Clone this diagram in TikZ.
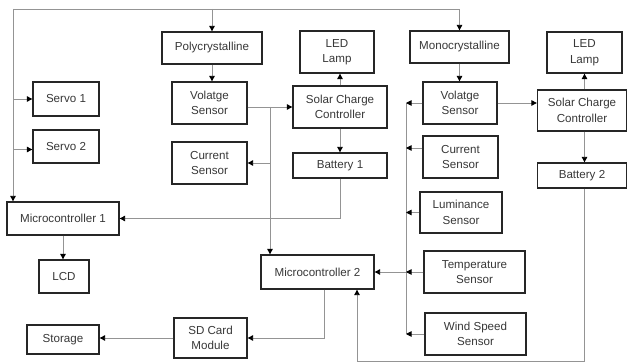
\documentclass[tikz,border=0pt]{standalone}
\usepackage{fontspec}
\setmainfont{Liberation Sans}
\usetikzlibrary{arrows.meta}
\begin{document}
\begin{tikzpicture}[x=1pt,y=-1pt,
  box/.style={draw=black!85,line width=1.3pt,fill=white,align=center,inner sep=1pt,
    font=\fontsize{11.6}{15.5}\selectfont,text=black!78},
  ln/.style={draw=black!42,line width=0.9pt},
  arr/.style={ln,-{Triangle[length=5.5pt,width=5.5pt,color=black]}}]
\useasboundingbox (0,0) rectangle (628,363);
\node[box,minimum width=100pt,minimum height=32pt] (poly) at (212,48) {Polycrystalline};
\node[box,minimum width=75pt,minimum height=42pt] (vs1) at (209.5,103) {Volatge\\Sensor};
\node[box,minimum width=66pt,minimum height=34pt] (servo1) at (66,99) {Servo 1};
\node[box,minimum width=66pt,minimum height=33pt] (servo2) at (66,146.5) {Servo 2};
\node[box,minimum width=75pt,minimum height=42pt] (cs1) at (209.5,163) {Current\\Sensor};
\node[box,minimum width=74pt,minimum height=42pt] (led1) at (337,52) {LED\\Lamp};
\node[box,minimum width=94pt,minimum height=42pt] (scc1) at (340,107) {Solar Charge\\Controller};
\node[box,minimum width=94pt,minimum height=25pt] (bat1) at (340,165.5) {Battery 1};
\node[box,minimum width=112pt,minimum height=33pt] (mc1) at (63,218.5) {Microcontroller 1};
\node[box,minimum width=50pt,minimum height=33pt] (lcd) at (64,276.5) {LCD};
\node[box,minimum width=113pt,minimum height=34pt] (mc2) at (317.5,272) {Microcontroller 2};
\node[box,minimum width=73pt,minimum height=40pt] (sd) at (210.5,338) {SD Card\\Module};
\node[box,minimum width=72pt,minimum height=29pt] (storage) at (63,339.5) {Storage};
\node[box,minimum width=99pt,minimum height=32pt] (mono) at (459.5,47) {Monocrystalline};
\node[box,minimum width=74pt,minimum height=42pt] (vs2) at (460,103) {Volatge\\Sensor};
\node[box,minimum width=75pt,minimum height=42pt] (cs2) at (460.5,157) {Current\\Sensor};
\node[box,minimum width=82pt,minimum height=41pt] (lum) at (461,212.5) {Luminance\\Sensor};
\node[box,minimum width=101pt,minimum height=42pt] (temp) at (474.5,272) {Temperature\\Sensor};
\node[box,minimum width=101pt,minimum height=42pt] (wind) at (475.5,334) {Wind Speed\\Sensor};
\node[box,minimum width=75pt,minimum height=41pt] (led2) at (584.5,52.5) {LED\\Lamp};
\node[box,minimum width=89pt,minimum height=41pt] (scc2) at (582,110.5) {Solar Charge\\Controller};
\node[box,minimum width=89pt,minimum height=25pt] (bat2) at (582,175.5) {Battery 2};
\coordinate (tl) at (13,9);
\coordinate (b1) at (270,107);
\coordinate (bt) at (406,103);
\coordinate (bb) at (357,361);
% top distribution
\draw[arr] (tl) -| (mono.north);
\draw[arr] (tl) -- (tl |- mc1.north);
\draw[arr] (poly.north |- tl) -- (poly.north);
\draw[arr] (tl |- servo1.west) -- (servo1.west);
\draw[arr] ([yshift=-3pt]tl |- servo2.west) -- ([yshift=-3pt]servo2.west);
% left panel
\draw[arr] (poly.south) -- (poly.south |- vs1.north);
\draw[arr] (vs1.east |- scc1.west) -- (scc1.west);
\draw[arr] (b1) -- (b1 |- mc2.north);
\draw[arr] (b1 |- cs1.east) -- (cs1.east);
\draw[arr] (scc1.north) -- (scc1.north |- led1.south);
\draw[arr] (scc1.south) -- (bat1.north);
\draw[arr] (bat1.south) |- (mc1.east);
\draw[arr] (mc1.south) -- (mc1.south |- lcd.north);
\draw[arr] ([xshift=6.5pt]mc2.south) |- (sd.east);
\draw[arr] (sd.west) -- (sd.west -| storage.east);
% right panel
\draw[arr] (mono.south) -- (mono.south |- vs2.north);
\draw[arr] (vs2.east) -- (vs2.east -| scc2.west);
\draw[arr] (led2.south |- scc2.north) -- (led2.south);
\draw[arr] (led2.south |- scc2.south) -- (led2.south |- bat2.north);
\draw[arr] (led2.south |- bat2.south) |- (bb) -- (bb |- mc2.south);
% sensor bus
\draw[ln] (bt) -- (bt |- wind.west);
\draw[arr] (vs2.west) -- (vs2.west -| bt);
\draw[arr] ([yshift=9pt]cs2.west) -- ([yshift=9pt]cs2.west -| bt);
\draw[arr] (lum.west) -- (lum.west -| bt);
\draw[arr] (temp.west) -- (temp.west -| bt);
\draw[arr] (wind.west) -- (wind.west -| bt);
\draw[arr] (temp.west -| bt) -- (mc2.east);
\end{tikzpicture}
\end{document}
